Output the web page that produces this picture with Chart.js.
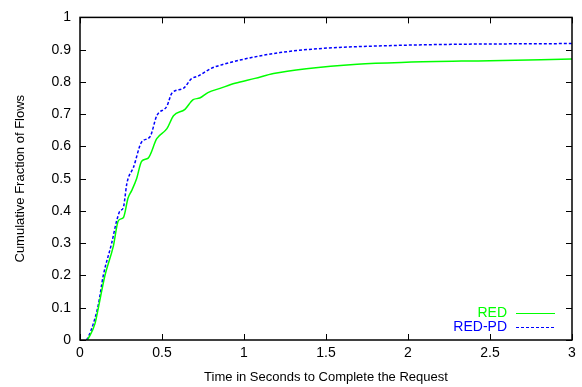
<!DOCTYPE html>
<html>
<head>
    <title>Cumulative Fraction of Flows</title>
    <script src="https://cdn.jsdelivr.net/npm/chart.js"></script>
    <style>
        body { margin: 0; background: #fff; }
        #wrap { width: 582px; height: 387px; }
    </style>
</head>
<body>
    <div id="wrap"><canvas id="cdfChart" width="582" height="387"></canvas></div>
    <script>
        // values
        const redTimes   = [0.045, 0.051, 0.091, 0.112, 0.152, 0.203, 0.234, 0.265, 0.293, 0.315, 0.345, 0.376, 0.416, 0.468, 0.53, 0.57, 0.64, 0.69, 0.73, 0.78, 0.854, 0.945, 1.067, 1.18, 1.38, 1.69, 1.99, 2.5, 3.0];
        const redValues  = [0, 0.005, 0.05, 0.1, 0.2, 0.29, 0.37, 0.38, 0.44, 0.463, 0.5, 0.554, 0.564, 0.624, 0.655, 0.695, 0.715, 0.745, 0.75, 0.767, 0.78, 0.796, 0.811, 0.826, 0.841, 0.855, 0.861, 0.866, 0.871];
        const redpdTimes  = [0.04, 0.051, 0.081, 0.112, 0.142, 0.193, 0.224, 0.244, 0.264, 0.285, 0.295, 0.325, 0.376, 0.427, 0.468, 0.53, 0.56, 0.63, 0.68, 0.72, 0.80, 0.884, 0.976, 1.22, 1.48, 1.79, 2.2, 3.0];
        const redpdValues = [0, 0.01, 0.05, 0.11, 0.2, 0.3, 0.37, 0.40, 0.41, 0.483, 0.503, 0.534, 0.614, 0.63, 0.695, 0.725, 0.765, 0.78, 0.81, 0.818, 0.842, 0.856, 0.868, 0.891, 0.904, 0.911, 0.916, 0.919];

        const seriesNames = ['RED', 'RED-PD'];
        const xTickValues = [0, 0.5, 1, 1.5, 2, 2.5, 3];
        const xTickLabels = ['0', '0.5', '1', '1.5', '2', '2.5', '3'];
        const yTickValues = [0, 0.1, 0.2, 0.3, 0.4, 0.5, 0.6, 0.7, 0.8, 0.9, 1];
        const yTickLabels = ['0', '0.1', '0.2', '0.3', '0.4', '0.5', '0.6', '0.7', '0.8', '0.9', '1'];

        const FONT = 'Liberation Sans, Arial, sans-serif';
        const GREEN = '#00ff00';
        const BLUE = '#0000ff';

        function toPoints(xs, ys) {
            return xs.map((x, i) => ({ x: x, y: ys[i] }));
        }

        // gnuplot style: box border with inward ticks on all four sides, legend inside
        const gnuplotFrame = {
            id: 'gnuplotFrame',
            afterDraw(chart) {
                const c = chart.ctx;
                const a = chart.chartArea;
                const xs = chart.scales.x, ys = chart.scales.y;
                c.save();
                c.strokeStyle = '#000';
                c.lineWidth = 1;
                c.beginPath();
                xTickValues.forEach(v => {
                    const p = Math.round(xs.getPixelForValue(v)) + 0.5;
                    c.moveTo(p, a.bottom); c.lineTo(p, a.bottom - 6);
                    c.moveTo(p, a.top); c.lineTo(p, a.top + 6);
                });
                yTickValues.forEach(v => {
                    const p = Math.round(ys.getPixelForValue(v)) + 0.5;
                    c.moveTo(a.left, p); c.lineTo(a.left + 6, p);
                    c.moveTo(a.right, p); c.lineTo(a.right - 6, p);
                });
                c.stroke();
                c.lineWidth = 1.5;
                c.strokeRect(a.left, a.top, a.right - a.left, a.bottom - a.top);

                // legend
                c.font = '14px ' + FONT;
                c.textAlign = 'right';
                c.textBaseline = 'middle';
                const rows = [
                    { name: seriesNames[0], color: GREEN, dash: [] },
                    { name: seriesNames[1], color: BLUE, dash: [3, 2] }
                ];
                rows.forEach((r, i) => {
                    const y = a.bottom - 27 + i * 14;
                    c.fillStyle = r.color;
                    c.fillText(r.name, a.right - 65, y);
                    c.strokeStyle = r.color;
                    c.lineWidth = 1.2;
                    c.setLineDash(r.dash);
                    c.beginPath();
                    c.moveTo(a.right - 56, y + 0.5);
                    c.lineTo(a.right - 17, y + 0.5);
                    c.stroke();
                });
                c.restore();
            }
        };

        const ctx = document.getElementById('cdfChart').getContext('2d');
        const chart = new Chart(ctx, {
            type: 'line',
            data: {
                datasets: [{
                    label: seriesNames[0],
                    data: toPoints(redTimes, redValues),
                    borderColor: GREEN,
                    borderWidth: 1.5,
                    pointRadius: 0,
                    fill: false,
                    cubicInterpolationMode: 'monotone'
                }, {
                    label: seriesNames[1],
                    data: toPoints(redpdTimes, redpdValues),
                    borderColor: BLUE,
                    borderWidth: 1.5,
                    borderDash: [3, 2],
                    pointRadius: 0,
                    fill: false,
                    cubicInterpolationMode: 'monotone'
                }]
            },
            options: {
                responsive: false,
                animation: false,
                layout: { padding: { left: 9, right: 10, top: 9, bottom: 0 } },
                plugins: {
                    legend: { display: false },
                    tooltip: { enabled: false }
                },
                scales: {
                    x: {
                        type: 'linear',
                        min: 0, max: 3,
                        afterBuildTicks: s => { s.ticks = xTickValues.map(v => ({ value: v })); },
                        afterFit: s => { s.height = 47; },
                        grid: { display: false, drawTicks: false },
                        border: { display: false },
                        ticks: {
                            color: '#000',
                            padding: 5,
                            font: { family: FONT, size: 14 },
                            maxRotation: 0,
                            callback: (v, i) => xTickLabels[i]
                        },
                        title: {
                            display: true,
                            text: 'Time in Seconds to Complete the Request',
                            color: '#000',
                            font: { family: FONT, size: 13 },
                            padding: { top: 4, bottom: 2 }
                        }
                    },
                    y: {
                        type: 'linear',
                        min: 0, max: 1,
                        afterBuildTicks: s => { s.ticks = yTickValues.map(v => ({ value: v })); },
                        afterFit: s => { s.width = 71; },
                        grid: { display: false, drawTicks: false },
                        border: { display: false },
                        ticks: {
                            color: '#000',
                            padding: 9,
                            font: { family: FONT, size: 14 },
                            callback: (v, i) => yTickLabels[i]
                        },
                        title: {
                            display: true,
                            text: 'Cumulative Fraction of Flows',
                            color: '#000',
                            font: { family: FONT, size: 13 },
                            padding: { top: 4, bottom: 4 }
                        }
                    }
                }
            },
            plugins: [gnuplotFrame]
        });
    </script>
</body>
</html>
